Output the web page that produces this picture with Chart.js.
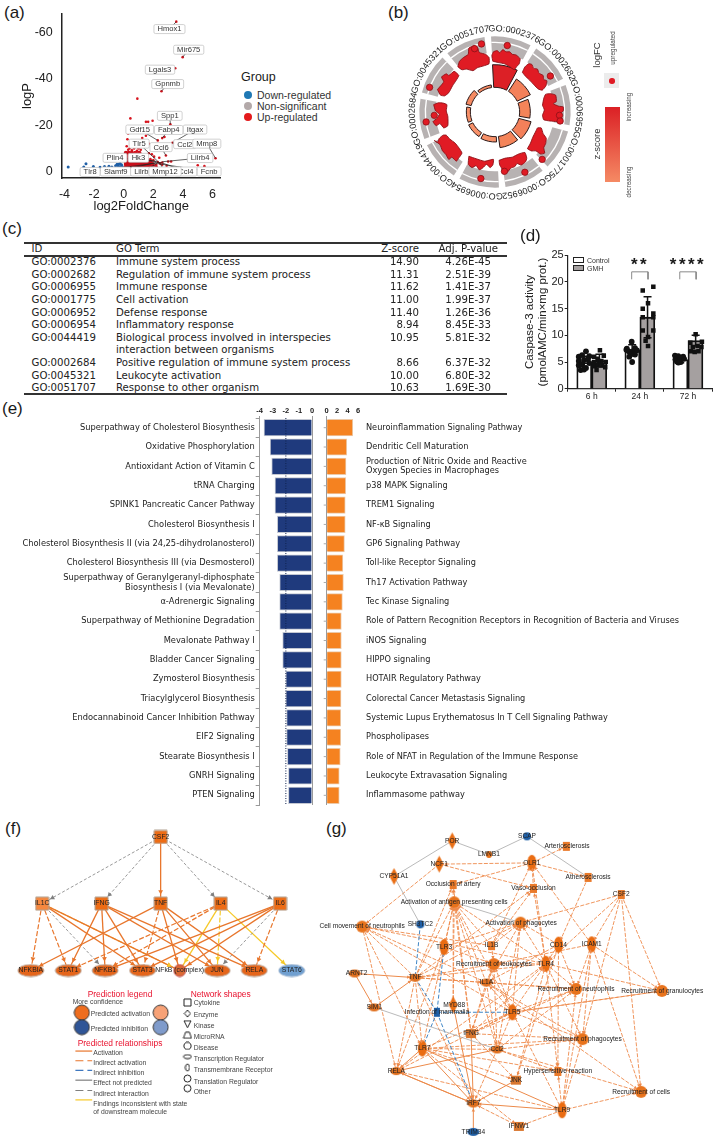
<!DOCTYPE html>
<html>
<head>
<meta charset="utf-8">
<title>GMH figure</title>
<script src="https://cdn.jsdelivr.net/npm/chart.js@4"></script>
<style>
  html, body { margin: 0; padding: 0; background: #fff; overflow: hidden; }
  #page { position: relative; width: 716px; height: 1145px; overflow: hidden; font-family: "Liberation Sans", Arial, sans-serif; color: #1a1a1a; }
  canvas { position: absolute; }
  .t { position: absolute; white-space: nowrap; line-height: 1; }
  #go-table .t { font-family: "DejaVu Sans Condensed", "DejaVu Sans", sans-serif; color: #222; }
</style>
</head>
<body>
<div id="page"></div>
<script>
// ---------- (a) volcano ----------
const upX = [3.55,3.98,3.48,2.55,0.92,0.45,3.15,1.95,1.5,1.65,0.3,1.5,0.25,1.25,2.3,2.6,2.75,3.3,1.7,1.3,2.85,2.05,6.2,5,5.45,3,2.6,2,1.8,2.3,2.45,1.9,2.2,1.4,1.7,1,0.7,0.4,0.3,0.2,0.9,0.55,1.15,0.75,2.6,2.9,3.2,1.9,2.4];
const upY = [-64.7,-49.4,-44.6,-34.7,-31.5,-23,-20.5,-22,-21.5,-21.5,-16.5,-15.5,-14,-14.5,-13.5,-14.5,-15,-12.5,-12,-11,-7,-6.5,-5.8,-2.8,-2.4,-4.4,-4,-5,-5.5,-4.2,-3.6,-3.3,-3,-7,-8,-10,-10,-10,-9.5,-11,-9,-9.2,-9.5,-8.4,-3,-2.6,-4.4,-7.5,-6];
const denseX = [0.15,0.35,0.55,0.75,0.95,1.15,1.35,1.55,1.75,1.95,2.15, 0.15,0.35,0.55,0.75,0.95,1.15,1.35,1.55,1.75,1.95,2.15, 0.15,0.35,0.55,0.75,0.95,1.15,1.35,1.55,1.75,1.95, 0.15,0.35,0.55,0.75,0.95,1.15,1.35,1.55,1.8, 0.15,0.35,0.55,0.75,0.95,1.15,1.4, 0.15,0.35,0.55,0.75,0.95,1.2, 0.15,0.35,0.55,0.8,1.05];
const denseY = [-0.9,-0.9,-0.9,-0.9,-0.9,-0.9,-0.9,-0.9,-0.9,-0.9,-0.9, -2.1,-2.1,-2.1,-2.1,-2.1,-2.1,-2.1,-2.1,-2.1,-2.1,-2.1, -3.3,-3.3,-3.3,-3.3,-3.3,-3.3,-3.3,-3.3,-3.3,-3.3, -4.5,-4.5,-4.5,-4.5,-4.5,-4.5,-4.5,-4.5,-4.5, -5.7,-5.7,-5.7,-5.7,-5.7,-5.7,-5.7, -6.9,-6.9,-6.9,-6.9,-6.9,-6.9, -8.1,-8.1,-8.1,-8.1,-8.1];
const downX = [-3.75,-2.55,-2.05,-2.7,-1.6,-1.3,-1,-0.8,-0.55,-0.4,-0.35,-0.3,-0.15,-0.2,-0.45,-0.1,-0.25];
const downY = [-2,-3.4,-2.3,-2,-1.9,-2.3,-2.4,-2,-2.6,-2.6,-3.2,-2.2,-3,-2.2,-3.2,-2.3,-3.6];
const geneNames = ['Hmox1','Mir675','Lgals3','Gpnmb','Spp1','Gdf15','Fabp4','Itgax','Tlr5','Ccl6','Ccl2','Mmp8','Plin4','Hk3','Lilrb4','Tlr8','Slamf9','Ccl4','Lilrb3','Mmp12','Fcnb'];
const geneX = [3.09,4.39,2.45,2.97,3.11,1.08,3.04,4.82,1.04,2.52,4.12,5.61,-0.59,0.99,5.16,-2.27,-0.54,4.19,1.33,2.79,5.77];
const geneY = [-61.5,-52.6,-44,-37.8,-24.1,-18.2,-18,-18.2,-12.1,-10.6,-11.9,-12.1,-6,-6,-5.9,0.1,-0.1,-0.1,-0.1,-0.1,-0.1];
const geneTargetX = [3.55,3.98,3.48,2.55,3.15,2.3,2.6,3.3,2.3,2.85,3.3,6.2,2.2,2.4,2.6,2.5,2.2,2.5,2.3,2.4,2.3];
const geneTargetY = [-64.7,-49.4,-44.6,-34.7,-20.5,-13.5,-14.5,-12.5,-4.5,-7,-12.5,-5.8,-4.5,-4,-4.3,-4,-4,-4,-3.8,-4,-3.5];
const groupNames = ['Down-regulated','Non-significant','Up-regulated'];
const groupColors = ['#1f78b4','#b3a9a9','#e41a1c'];

// ---------- (b) GO circle ----------
const goCircleIds = ['GO:0002376','GO:0002682','GO:0006955','GO:0001775','GO:0006952','GO:0006954','GO:0044419','GO:0002684','GO:0045321','GO:0051707'];
const zBarTop = [142,118,106,112,108,90,88,86,90,82];
const zBarColors = ['#dc2026','#f3805a','#f48459','#f3805a','#f48459','#f79068','#f79068','#f79068','#f58a62','#f58a62'];
const outlierX = [294,431,460,462,405,350,285,210,36,62,47,212,190];
const outlierY = [50,147,272,290,412,453,450,473,293,272,183,45,60];
const blobX = [
  [248,245,250,262,270,280,290,302,310,322,335,332,324,316,300,285,265],
  [342,350,362,372,378,390,395,408,410,420,417,405,392,380,365,352],
  [406,410,416,432,448,450,440,458,472,472,462,468,470,452,430,410,406,412],
  [358,368,375,385,390,402,408,418,416,410,413,400,385,370],
  [268,288,310,330,350,356,352,338,325,318,305,295,282,276,270],
  [172,195,222,250,248,240,228,215,205,195,182,170],
  [62,72,78,90,100,112,128,140,150,138,132,118,108,98,88,80],
  [60,75,90,102,100,105,105,92,80,68,58,70,78,66],
  [72,85,92,85,100,108,125,140,132,120,108,95,82],
  [137,142,155,170,172,190,200,205,225,236,236,218,200,185,165,150]
];
const blobY = [
  [100,82,70,66,73,63,70,70,78,80,92,108,117,127,116,108,104],
  [135,118,108,110,122,125,138,145,158,162,178,192,188,176,160,148],
  [240,218,205,203,208,228,235,243,245,258,268,282,295,292,290,286,272,255],
  [378,360,342,322,312,312,330,345,362,375,392,395,385,385],
  [415,408,405,395,390,408,420,430,425,435,440,452,458,440,430],
  [402,410,418,412,430,438,428,440,445,432,438,428],
  [352,358,345,335,335,348,360,375,392,410,418,405,412,395,385,365],
  [238,232,233,238,258,275,305,312,298,305,292,282,268,258],
  [190,175,165,150,140,145,132,145,160,178,200,210,208],
  [118,100,88,78,58,50,58,72,78,88,108,115,120,130,125,127]
];

// ---------- (c) table ----------
const goIds = ['GO:0002376','GO:0002682','GO:0006955','GO:0001775','GO:0006952','GO:0006954','GO:0044419','','GO:0002684','GO:0045321','GO:0051707'];
const goTerms = ['Immune system process','Regulation of immune system process','Immune response','Cell activation','Defense response','Inflammatory response','Biological process involved in interspecies','interaction between organisms','Positive regulation of immune system process','Leukocyte activation','Response to other organism'];
const zScores = ['14.90','11.31','11.62','11.00','11.40','8.94','10.95','','8.66','10.00','10.63'];
const adjP = ['4.26E-45','2.51E-39','1.41E-37','1.99E-37','1.26E-36','8.45E-33','5.81E-32','','6.37E-32','6.80E-32','1.69E-30'];

// ---------- (d) caspase ----------
const timeLabels = ['6 h','24 h','72 h'];
const controlMeans = [4.9,7.25,5.45];
const gmhMeans = [5.25,13.4,9];
const controlErr = [1.2,1,0.6];
const gmhErr = [1.2,3.85,1];
const controlPtX = [-0.27,-0.2,-0.12,-0.05,-0.27,-0.16,-0.08,-0.27,-0.2,-0.05,-0.12,-0.23,-0.16, 0.73,0.83,0.9,0.77,0.87,0.8,0.94,0.72,0.83,0.78,0.9,0.84, 1.73,1.8,1.9,1.74,1.84,1.77,1.92,1.85,1.8];
const controlPtY = [6,6.3,7,6.1,5.2,5.4,5.5,4.4,4.6,4.8,3.9,3.5,3.6, 7.5,8.8,7.6,7,7.1,6.8,7.2,7.3,6.5,6,6.4,5,  6.2,6.1,6,5.5,5.6,5.1,5.6,5,4.9];
const gmhPtX = [0.05,0.12,0.17,0.25,0.05,0.14,0.2,0.29,0.06,0.13,0.22,0.1,0.28, 1.06,1.28,1.17,1.06,1.28,1.06,1.28,1.06,1.28,1.17,1.17,1.12, 2.05,2.16,2.29,2.1,2.2,2.06,2.28,2.14,2.22];
const gmhPtY = [6,5.6,7.2,6.2,5,5.1,5.2,5,4.2,4.4,4.4,3.5,4, 18.4,19.1,16,15,14.1,13.4,13.4,10.9,10.9,9.7,8,9, 8.6,10.2,8.8,7.8,8,7,7.8,6.9,7];
const bracketLeft = [0.83,1.83];
const bracketRight = [1.17,2.17];
const bracketTop = 21.9;
const bracketFoot = 20.5;

// ---------- (e) pathways ----------
const downPathways = ['Superpathway of Cholesterol Biosynthesis','Oxidative Phosphorylation','Antioxidant Action of Vitamin C','tRNA Charging','SPINK1 Pancreatic Cancer Pathway','Cholesterol Biosynthesis I','Cholesterol Biosynthesis II (via 24,25-dihydrolanosterol)','Cholesterol Biosynthesis III (via Desmosterol)',['Superpathway of Geranylgeranyl-diphosphate','Biosynthesis I (via Mevalonate)'],'\u03b1-Adrenergic Signaling','Superpathway of Methionine Degradation','Mevalonate Pathway I','Bladder Cancer Signaling','Zymosterol Biosynthesis','Triacylglycerol Biosynthesis','Endocannabinoid Cancer Inhibition Pathway','EIF2 Signaling','Stearate Biosynthesis I','GNRH Signaling','PTEN Signaling'];
const downValues = [-3.67,-3.2,-3.08,-2.83,-2.83,-2.65,-2.65,-2.65,-2.47,-2.47,-2.47,-2.24,-2.24,-2,-2,-1.94,-1.94,-1.88,-1.8,-1.8];
const upPathways = ['Neuroinflammation Signaling Pathway','Dendritic Cell Maturation',['Production of Nitric Oxide and Reactive','Oxygen Species in Macrophages'],'p38 MAPK Signaling','TREM1 Signaling','NF-\u03baB Signaling','GP6 Signaling Pathway','Toll-like Receptor Signaling','Th17 Activation Pathway','Tec Kinase Signaling','Role of Pattern Recognition Receptors in Recognition of Bacteria and Viruses','iNOS Signaling','HIPPO signaling','HOTAIR Regulatory Pathway','Colorectal Cancer Metastasis Signaling','Systemic Lupus Erythematosus In T Cell Signaling Pathway','Phospholipases','Role of NFAT in Regulation of the Immune Response','Leukocyte Extravasation Signaling','Inflammasome pathway'];
const upValues = [5,3.85,3.7,3.65,3.55,3.55,3.4,3.1,3.2,3,2.8,2.8,2.8,2.8,2.75,2.7,2.7,2.6,2.4,2.4];
const thresholdLogP = -2;

// ---------- (f) network ----------
const fNames = ['CSF2','IL1C','IFNG','TNF','IL4','IL6','NFKBIA','STAT1','NFKB1','STAT3','NFkB (complex)','JUN','RELA','STAT6'];
const fX = [482,115,299,482,668,852,80,196,310,426,541,657,772,888];
const fY = [68,274,274,274,274,274,481,481,481,481,481,481,481,481];
const fShapes = ['rect','rectL','rect','rect','rect','rect','ell','ell','ell','ell','circ','ell','ell','ellB'];
const fSolid = [['CSF2','TNF'],['IL1C','STAT3'],['IL1C','NFkB (complex)'],['IFNG','STAT1'],['IFNG','NFKB1'],['IFNG','STAT3'],['IFNG','JUN'],['IFNG','RELA'],['TNF','NFKBIA'],['TNF','NFkB (complex)'],['TNF','JUN'],['TNF','RELA'],['IL6','NFKB1'],['IL6','STAT3'],['IL6','NFkB (complex)']];
const fDash = [['IL1C','NFKBIA'],['IL1C','STAT1'],['TNF','STAT3'],['IL4','STAT1'],['IL4','NFKB1'],['IL6','RELA']];
const fGrey = [['CSF2','IL1C'],['CSF2','IFNG'],['CSF2','IL4'],['CSF2','IL6'],['IL1C','NFKB1'],['IL6','JUN']];
const fYellowSolid = [['IL4','NFkB (complex)'],['IL4','STAT6']];
const fYellowDash = [['IL1C','NFkB (complex)'],['IL4','JUN']];
const predictLegendX = [238,482,238,482];
const predictLegendY = [611,611,656,656];
const predictLegendKinds = ['bigO','bigOL','bigB','bigBL'];
const shapeLegendY = [580,614,647,681,714,747,781,815,845];
const shapeLegendKinds = ['oRect','oDia','oTri','oTrap','oCross','oFlat','oTall','oCirc','oCirc'];
const shapeLegendNames = ['Cytokine','Enzyme','Kinase','MicroRNA','Disease','Transcription Regulator','Transmembrane  Receptor','Translation Regulator','Other'];
const relNames = ['Activation','Indirect activation','Indirect inhibition','Effect not predicted','Indirect interaction','Findings inconsistent with state','of downstream  molecule'];
const relY = [730,760,790,820,852,881,906];
const relColors = ['#e8762c','#e8762c','#3f78bf','#7f7f7f','#7f7f7f','#f6c928'];
const relDash = [[],[8,4],[8,4],[],[8,4],[]];

// ---------- (g) network ----------
const gNames = ['POR','SCAP','LMNB1','Arteriosclerosis','OLR1','NCF1','CYP51A1','Atherosclerosis','Occlusion of artery','Vaso-occlusion','CSF2','Activation of antigen presenting cells','Activation of phagocytes','Cell movement of neutrophils','SH3TC2','TLR3','IL1B','CD14','ICAM1','Recruitment of leukocytes','TLR4','ARNT2','TNF','IL1A','Recruitment of neutrophils','Recruitment of granulocytes','SIM1','MYD88','Infection of mammalia','TLR5','IFNG','Recruitment of phagocytes','TLR7','Ccl2','RELA','Hypersensitive reaction','JNK','Recruitment of cells','IRF7','TLR9','IFNW1','TRIM34'];
const gX = [422,652,535,773,667,382,243,840,425,672,942,428,632,145,324,397,543,749,851,550,710,122,308,527,803,1067,182,425,375,607,480,823,330,560,250,747,618,1003,487,760,627,487];
const gY = [80,66,122,97,148,152,190,193,215,227,246,270,333,345,338,408,404,401,400,461,460,490,503,518,538,544,595,587,610,610,676,693,722,725,792,793,820,856,892,913,963,980];
const gLabelX = [422,652,535,775,667,382,243,840,425,672,942,428,634,145,324,397,543,749,851,550,710,128,308,527,803,1068,182,428,375,607,480,823,330,560,250,747,618,1003,487,760,627,487];
const gShapes = ['dia','circB','dot','sq','tall','dia','dia','sq','sq','sq','sq','circ2','circ2','circ2','circB','tall','sq','tall','tall','circ2','tall','ellS','ellS','ellS','circ2','circ2','ellS','dia','rectB','tall','rectT','circ2','tall','ellS','ellS','sq','rectT','circ2','ellS','tall','rectT','ellSB'];
const gGrey = [['CYP51A1','POR'],['POR','LMNB1'],['LMNB1','SCAP'],['SCAP','Atherosclerosis'],['CYP51A1','SH3TC2'],['Activation of antigen presenting cells','Activation of phagocytes'],['SIM1','Ccl2']];
const gBlue = [['SH3TC2','TNF'],['TLR3','Infection of mammalia'],['TNF','Infection of mammalia'],['Infection of mammalia','TLR7'],['Infection of mammalia','IRF7'],['Infection of mammalia','TLR5']];
const gSolid = [['TRIM34','IRF7'],['TLR7','IRF7'],['RELA','IRF7'],['Ccl2','RELA'],['IRF7','RELA'],['TLR9','IRF7'],['TLR7','RELA'],['JNK','IRF7'],['ARNT2','TNF'],['ARNT2','SIM1'],['SIM1','TNF'],['TLR7','TLR9'],['IFNG','IRF7'],['MYD88','IRF7']];
const gDash = [
  ['NCF1','Cell movement of neutrophils'],['OLR1','NCF1'],['NCF1','Vaso-occlusion'],['OLR1','Arteriosclerosis'],['OLR1','Occlusion of artery'],['OLR1','Atherosclerosis'],['Atherosclerosis','CD14'],['Vaso-occlusion','OLR1'],['TLR4','OLR1'],['ICAM1','OLR1'],['IL1B','OLR1'],['TNF','Vaso-occlusion'],['IL1B','Vaso-occlusion'],['TLR4','Vaso-occlusion'],
  ['CSF2','Activation of phagocytes'],['CSF2','TLR4'],['CSF2','ICAM1'],['CSF2','Recruitment of granulocytes'],['CSF2','Recruitment of cells'],['CSF2','Recruitment of phagocytes'],
  ['ICAM1','Recruitment of granulocytes'],['ICAM1','Recruitment of cells'],['ICAM1','Recruitment of phagocytes'],['ICAM1','Recruitment of neutrophils'],['ICAM1','Recruitment of leukocytes'],
  ['TLR4','Recruitment of granulocytes'],['TLR4','Recruitment of neutrophils'],['TLR4','Recruitment of leukocytes'],['TLR4','Recruitment of phagocytes'],['TLR4','Hypersensitive reaction'],['TLR4','Activation of phagocytes'],['TLR4','Activation of antigen presenting cells'],['TLR4','TNF'],
  ['CD14','TLR4'],['CD14','Recruitment of neutrophils'],['CD14','Hypersensitive reaction'],['CD14','JNK'],['CD14','Activation of phagocytes'],['CD14','IL1A'],
  ['IL1B','Recruitment of leukocytes'],['IL1B','Cell movement of neutrophils'],['IL1B','Activation of antigen presenting cells'],['IL1B','Activation of phagocytes'],
  ['TNF','Activation of phagocytes'],['TNF','Activation of antigen presenting cells'],['TNF','Recruitment of leukocytes'],['TNF','Recruitment of neutrophils'],['TNF','IL1A'],['TNF','TLR7'],['TNF','RELA'],['TNF','Cell movement of neutrophils'],['TNF','Occlusion of artery'],['TNF','IRF7'],
  ['Cell movement of neutrophils','RELA'],['Cell movement of neutrophils','TLR7'],['IL1A','Cell movement of neutrophils'],['TLR5','Cell movement of neutrophils'],['TLR4','Cell movement of neutrophils'],
  ['IL1A','Recruitment of leukocytes'],['IL1A','Recruitment of neutrophils'],['IL1A','Recruitment of phagocytes'],['IL1A','Activation of phagocytes'],['IL1A','Activation of antigen presenting cells'],['IL1A','Ccl2'],['IL1A','IFNG'],['IL1A','Recruitment of cells'],
  ['TLR5','Recruitment of leukocytes'],['TLR5','Recruitment of neutrophils'],['TLR5','Recruitment of granulocytes'],['TLR5','Recruitment of phagocytes'],['TLR5','Ccl2'],['TLR5','Activation of antigen presenting cells'],['TLR5','Activation of phagocytes'],['TLR5','IL1A'],['TLR5','TLR4'],['TLR5','RELA'],['TLR5','IFNG'],
  ['TLR3','Activation of antigen presenting cells'],['TLR3','Activation of phagocytes'],['TLR3','Recruitment of leukocytes'],['TLR3','RELA'],['MYD88','Occlusion of artery'],['MYD88','Activation of antigen presenting cells'],
  ['IFNG','Recruitment of neutrophils'],['IFNG','Recruitment of phagocytes'],['IFNG','Recruitment of leukocytes'],['IFNG','Activation of antigen presenting cells'],['IFNG','TLR4'],['IFNG','Occlusion of artery'],
  ['Ccl2','Recruitment of leukocytes'],['Ccl2','Recruitment of neutrophils'],['Ccl2','Recruitment of phagocytes'],['Ccl2','Recruitment of cells'],['Ccl2','Hypersensitive reaction'],['Ccl2','Activation of antigen presenting cells'],['Ccl2','IRF7'],['Ccl2','Activation of phagocytes'],
  ['TLR7','Ccl2'],['TLR7','TLR5'],['TLR7','JNK'],['TLR7','IFNW1'],['TLR7','Hypersensitive reaction'],['TLR7','Activation of antigen presenting cells'],['TLR7','Recruitment of phagocytes'],
  ['TLR9','Recruitment of cells'],['TLR9','RELA'],['TLR9','Hypersensitive reaction'],['TLR9','Recruitment of neutrophils'],['TLR9','Recruitment of phagocytes'],['TLR9','IFNW1'],['TLR9','ICAM1'],['TLR9','TLR5'],['IFNW1','IRF7'],['IFNG','JNK'],['JNK','TLR4'],['RELA','TLR4'],['Recruitment of granulocytes','TLR5']
];

// ---------- helpers ----------
Chart.defaults.font.family = '"Liberation Sans", Arial, sans-serif';
Chart.defaults.color = '#1a1a1a';
Chart.defaults.animation = false;
Chart.defaults.responsive = false;
Chart.defaults.plugins.legend.display = false;
Chart.defaults.plugins.tooltip.enabled = false;

const page = document.getElementById('page');

function addCanvas(x, y, w, h) {
  const c = document.createElement('canvas');
  c.width = w; c.height = h;
  c.style.left = x + 'px'; c.style.top = y + 'px';
  page.appendChild(c);
  return c;
}

function addText(x, y, str, o = {}) {
  const d = document.createElement('div');
  d.className = 't';
  d.textContent = str;
  d.style.left = x + 'px'; d.style.top = y + 'px';
  d.style.fontSize = (o.size || 8) + 'px';
  if (o.color) d.style.color = o.color;
  if (o.weight) d.style.fontWeight = o.weight;
  if (o.spacing) d.style.letterSpacing = o.spacing + 'px';
  const shift = o.align === 'center' ? '-50%' : o.align === 'right' ? '-100%' : '0';
  d.style.transform = `translate(${shift},-50%)` + (o.rotate ? ` rotate(${o.rotate}deg)` : '');
  (o.parent || page).appendChild(d);
  return d;
}

function addBox(x, y, w, h, css) {
  const d = document.createElement('div');
  d.style.cssText = `position:absolute;left:${x}px;top:${y}px;width:${w}px;height:${h}px;box-sizing:border-box;${css}`;
  page.appendChild(d);
}

// axis boxes are pinned to the reference plot area, label overflow padding is dropped
const pinWidth = w => s => { s.width = w; s.paddingTop = 0; s.paddingBottom = 0; };
const pinHeight = h => s => { s.height = h; s.paddingLeft = 0; s.paddingRight = 0; };

// small canvases used as point styles in the two networks
const shapeSpecs = {
  rect: [13,13,'#ee6c14','#b0a090'], rectL: [13,13,'#f6883f','#b0a090'], ell: [26,12,'#e5651a','#b9a79a'], ellB: [26,12,'#6f9fd0','#9cb4d0'], circ: [12,12,'#dc6a35','#c05050'],
  dia: [9,17,'#e96f16',null], circB: [8,8,'#1f5fa6',null], sq: [7,9,'#ea7a2a',null], tall: [9,16,'#ea6c12',null], rectB: [6,9,'#1f5fa6',null], rectT: [10,9,'#d9772f',null],
  dot: [6,7,'#e8731c',null], ellS: [12,8,'#e0701f',null], ellSB: [12,8,'#1f5fa6',null], circ2: [12,12,'#e8731c',null],
  bigO: [15,15,'#ee6d1e','#333'], bigOL: [15,15,'#f7a277','#333'], bigB: [15,15,'#2f5597','#333'], bigBL: [15,15,'#7f9bcb','#333'],
  oRect: [7,7,'#fff','#222'], oDia: [6,7,'#fff','#222'], oTri: [7,7,'#fff','#222'], oTrap: [8,6,'#fff','#222'], oCross: [7,7,'#fff','#222'], oFlat: [8,4,'#fff','#222'], oTall: [4,7,'#fff','#222'], oCirc: [7,7,'#fff','#222']
};
function shapeCanvas(kind) {
  const [w, h, fill, line] = shapeSpecs[kind];
  const c = document.createElement('canvas');
  c.width = w + 2; c.height = h + 2;
  const g = c.getContext('2d');
  const cx = c.width / 2, cy = c.height / 2;
  g.fillStyle = fill;
  g.beginPath();
  if (kind === 'dia' || kind === 'oDia') {
    g.moveTo(cx, 1); g.lineTo(w + 1, cy); g.lineTo(cx, h + 1); g.lineTo(1, cy); g.closePath();
  } else if (kind === 'oTri') {
    g.moveTo(1, 1); g.lineTo(w + 1, 1); g.lineTo(cx, h + 1); g.closePath();
  } else if (kind === 'oTrap') {
    g.moveTo(3, 1); g.lineTo(w - 1, 1); g.lineTo(w + 1, h + 1); g.lineTo(1, h + 1); g.closePath();
  } else if (kind === 'oCross') {
    g.moveTo(3, 1); g.lineTo(w - 1, 1); g.lineTo(w + 1, 3); g.lineTo(w + 1, h - 1); g.lineTo(w - 1, h + 1); g.lineTo(3, h + 1); g.lineTo(1, h - 1); g.lineTo(1, 3); g.closePath();
  } else if (kind.includes('rect') || kind === 'sq' || kind === 'oRect') {
    g.rect(1, 1, w, h);
  } else {
    g.ellipse(cx, cy, w / 2, h / 2, 0, 0, Math.PI * 2);
  }
  g.fill();
  if (line) { g.strokeStyle = line; g.lineWidth = 1; g.stroke(); }
  return c;
}

// arrowheads + node labels drawn on top of a network chart
const networkPlugin = {
  id: 'network',
  afterDatasetsDraw(chart, args, opts) {
    const { ctx, scales: { x, y } } = chart;
    ctx.save();
    opts.arrows.forEach(([x0, y0, x1, y1, color]) => {
      const px = x.getPixelForValue(x1), py = y.getPixelForValue(y1);
      const a = Math.atan2(py - y.getPixelForValue(y0), px - x.getPixelForValue(x0));
      const back = opts.arrowBack, tx = px - Math.cos(a) * back, ty = py - Math.sin(a) * back;
      const s = opts.arrowSize;
      ctx.fillStyle = color;
      ctx.beginPath();
      ctx.moveTo(tx, ty);
      ctx.lineTo(tx - Math.cos(a - 0.5) * s, ty - Math.sin(a - 0.5) * s);
      ctx.lineTo(tx - Math.cos(a + 0.5) * s, ty - Math.sin(a + 0.5) * s);
      ctx.fill();
    });
    ctx.restore();
  },
  afterDraw(chart, args, opts) {
    const { ctx, scales: { x, y } } = chart;
    ctx.save();
    ctx.fillStyle = '#222';
    ctx.font = opts.labelFont;
    ctx.textAlign = 'center';
    ctx.textBaseline = 'middle';
    opts.names.forEach((n, i) => ctx.fillText(n, x.getPixelForValue(opts.labelX[i]), y.getPixelForValue(opts.labelY[i])));
    ctx.restore();
  }
};

function edgeSets(pairs, names, xs, ys, color, dash, width, arrows, arrowed) {
  return pairs.map(([a, b]) => {
    const i = names.indexOf(a), j = names.indexOf(b);
    if (arrowed) arrows.push([xs[i], ys[i], xs[j], ys[j], color]);
    return { type: 'line', data: [{ x: xs[i], y: ys[i] }, { x: xs[j], y: ys[j] }], borderColor: color, borderDash: dash, borderWidth: width, pointRadius: 0, order: 5 };
  });
}

// ---------- (a) ----------
addText(4, 12, '(a)', { size: 17 });
const geneLabelsPlugin = {
  id: 'geneLabels',
  afterDatasetsDraw(chart) {
    const { ctx, scales: { x, y } } = chart;
    ctx.save();
    ctx.strokeStyle = '#222'; ctx.lineWidth = 0.7;
    geneNames.forEach((n, i) => {
      ctx.beginPath();
      ctx.moveTo(x.getPixelForValue(geneX[i]), y.getPixelForValue(geneY[i]));
      ctx.lineTo(x.getPixelForValue(geneTargetX[i]), y.getPixelForValue(geneTargetY[i]));
      ctx.stroke();
    });
    ctx.font = '7.6px "Liberation Sans"';
    ctx.textAlign = 'center'; ctx.textBaseline = 'middle';
    geneNames.forEach((n, i) => {
      const px = x.getPixelForValue(geneX[i]), py = y.getPixelForValue(geneY[i]);
      const w = ctx.measureText(n).width + 7;
      ctx.fillStyle = '#fff'; ctx.strokeStyle = '#bdbdbd';
      ctx.beginPath(); ctx.roundRect(px - w / 2, py - 4.5, w, 9, 1.5); ctx.fill(); ctx.stroke();
      ctx.fillStyle = '#333';
      ctx.fillText(n, px, py + 0.3);
    });
    ctx.restore();
  }
};
new Chart(addCanvas(0, 0, 230, 214), {
  type: 'scatter',
  data: { datasets: [
    { data: upX.map((v, i) => ({ x: v, y: upY[i] })), backgroundColor: '#d7141e', pointRadius: 1.3, pointBorderWidth: 0 },
    { data: denseX.map((v, i) => ({ x: v, y: denseY[i] })), backgroundColor: '#c8101c', pointRadius: 2.2, pointBorderWidth: 0 },
    { data: downX.map((v, i) => ({ x: v, y: downY[i] })), backgroundColor: '#1f5fa6', pointRadius: 1.5, pointBorderWidth: 0 }
  ] },
  options: {
    layout: { padding: { top: 14, right: 9.3 } },
    scales: {
      x: { min: -4.19, max: 6.55, grid: { display: false }, border: { color: '#222', width: 1.5 },
        ticks: { stepSize: 2, includeBounds: false, font: { size: 12.5 }, padding: 1, color: '#222' },
        title: { display: true, text: 'log2FoldChange', font: { size: 13 }, padding: { top: 1, bottom: 0 } },
        afterFit: pinHeight(36) },
      y: { min: -68, max: 2.7, reverse: true, grid: { display: false }, border: { color: '#222', width: 1.5 },
        ticks: { stepSize: 20, includeBounds: false, font: { size: 12.5 }, padding: 1, color: '#222' },
        title: { display: true, text: 'logP', font: { size: 13 }, padding: { top: 20, bottom: 0 } },
        afterFit: pinWidth(61.7) }
    }
  },
  plugins: [geneLabelsPlugin]
});
addText(241, 77, 'Group', { size: 12.5 });
groupNames.forEach((n, i) => {
  addBox(243.5, 91 + i * 11, 8, 8, `border-radius:50%;background:${groupColors[i]}`);
  addText(257, 95.3 + i * 11, n, { size: 10.5, color: '#333' });
});

// ---------- (b) ----------
addText(388, 12, '(b)', { size: 17 });
const sectorAngles = c => (c.dataIndex % 2 ? 5 : 31);
const withGaps = arr => arr.flatMap(v => [v, 0]);
const ringInnerPlugin = {
  id: 'ringInner',
  beforeDatasetsDraw(chart) {
    const r = chart.scales.r;
    chart.data.datasets.forEach((ds, k) => {
      chart.getDatasetMeta(k).data.forEach((arc, i) => {
        arc.innerRadius = i % 2 ? 0 : r.getDistanceFromCenterForValue(ds.baseRadius);
      });
    });
  }
};
new Chart(addCanvas(414.7, 32.3, 160, 160), {
  type: 'polarArea',
  data: {
    labels: withGaps(goCircleIds),
    datasets: [
      { data: withGaps(zBarTop), baseRadius: 74, angle: sectorAngles, borderWidth: c => (c.dataIndex % 2 ? 0 : 1), borderColor: '#2b1a1a', backgroundColor: c => (c.dataIndex % 2 ? 'transparent' : zBarColors[c.dataIndex / 2]) },
      { data: withGaps(goCircleIds.map(() => 211)), baseRadius: 207, angle: sectorAngles, borderWidth: 0, backgroundColor: '#ffffff' },
      { data: withGaps(goCircleIds.map(() => 227)), baseRadius: 178, angle: sectorAngles, borderWidth: 0, backgroundColor: '#b7b2b2' }
    ]
  },
  options: {
    layout: { padding: 0 },
    scales: { r: { min: 0, max: 240, startAngle: -3, display: false, ticks: { display: false }, pointLabels: { display: false } } }
  },
  plugins: [ringInnerPlugin]
});
const blobSets = blobX.map((xs, k) => {
  const pts = xs.map((v, i) => ({ x: v, y: blobY[k][i] }));
  pts.push(pts[0]);
  return { type: 'line', data: pts, borderColor: '#8c1016', borderWidth: 0.9, backgroundColor: '#e01b24', fill: 'shape', pointRadius: 0, tension: 0.15, order: 2 };
});
new Chart(addCanvas(410, 25, 170, 170), {
  type: 'scatter',
  data: { datasets: [
    { data: outlierX.map((v, i) => ({ x: v, y: outlierY[i] })), pointRadius: 3.2, backgroundColor: '#e01b24', borderColor: '#8c1016', borderWidth: 0.8, order: 1 },
    ...blobSets
  ] },
  options: { scales: { x: { display: false, min: 0, max: 510 }, y: { display: false, min: 0, max: 510, reverse: true } } }
});
// curved GO ids around the circle
const svgNS = 'http://www.w3.org/2000/svg';
const svg = document.createElementNS(svgNS, 'svg');
svg.setAttribute('width', 716); svg.setAttribute('height', 210);
svg.style.cssText = 'position:absolute;left:0;top:0;';
const ring = document.createElementNS(svgNS, 'path');
ring.setAttribute('id', 'go-ring');
ring.setAttribute('d', 'M 495.7 31.3 A 81 81 0 1 1 495.69 31.3');
ring.setAttribute('fill', 'none');
svg.appendChild(ring);
goCircleIds.forEach((id, i) => {
  const t = document.createElementNS(svgNS, 'text');
  t.setAttribute('transform', `rotate(${-5 + i * 36} 495.7 112.3)`);
  t.setAttribute('font-size', '9');
  t.setAttribute('font-family', '"Liberation Sans"');
  t.setAttribute('fill', '#222');
  const p = document.createElementNS(svgNS, 'textPath');
  p.setAttribute('href', '#go-ring');
  p.textContent = id;
  t.appendChild(p);
  svg.appendChild(t);
});
page.appendChild(svg);
addText(597, 55, 'logFC', { size: 9.5, rotate: -90, align: 'center', color: '#333' });
addText(613, 48, 'upregulated', { size: 6.3, rotate: -90, align: 'center', color: '#444' });
addBox(604, 73, 15, 15, 'background:#ececec');
addBox(609, 78, 5.5, 5.5, 'background:#e01b24;border-radius:50%');
addText(597, 144, 'z-score', { size: 9.5, rotate: -90, align: 'center', color: '#333' });
addBox(605, 107, 15, 75, 'background:linear-gradient(#db2025,#f58a64)');
addText(629, 107, 'increasing', { size: 6.3, rotate: -90, align: 'center', color: '#444' });
addText(629, 182, 'decreasing', { size: 6.3, rotate: -90, align: 'center', color: '#444' });

// ---------- (c) ----------
addText(2, 228, '(c)', { size: 17 });
const tableLayer = document.createElement('div');
tableLayer.id = 'go-table';
page.appendChild(tableLayer);
const rowY = i => 262 + i * 12.63;
const tableFont = 11.3;
addBox(24, 242, 483, 2, 'background:#333');
addBox(24, 255, 483, 1.5, 'background:#333');
addBox(24, 393.3, 483, 2, 'background:#333');
addText(31.5, 249, 'ID', { parent: tableLayer, size: tableFont });
addText(116, 249, 'GO Term', { parent: tableLayer, size: tableFont });
addText(419, 249, 'Z-score', { parent: tableLayer, align: 'right', size: tableFont });
addText(498, 249, 'Adj. P-value', { parent: tableLayer, align: 'right', size: tableFont });
goTerms.forEach((term, i) => {
  addText(31.5, rowY(i), goIds[i], { parent: tableLayer, size: tableFont });
  addText(116, rowY(i), term, { parent: tableLayer, size: tableFont });
  addText(419, rowY(i), zScores[i], { parent: tableLayer, align: 'right', size: tableFont });
  addText(491, rowY(i), adjP[i], { parent: tableLayer, align: 'right', size: tableFont });
});

// ---------- (d) ----------
addText(520, 235, '(d)', { size: 17 });
const errorBarsPlugin = {
  id: 'errorBars',
  afterDatasetsDraw(chart) {
    const { ctx, scales: { x2, y } } = chart;
    ctx.save();
    ctx.strokeStyle = '#111'; ctx.lineWidth = 1.5;
    [[controlMeans, controlErr, -0.16], [gmhMeans, gmhErr, 0.16]].forEach(([means, errs, off]) => {
      means.forEach((m, i) => {
        const px = x2.getPixelForValue(i + off);
        const hi = y.getPixelForValue(m + errs[i]), lo = y.getPixelForValue(m - errs[i]);
        ctx.beginPath();
        ctx.moveTo(px, lo); ctx.lineTo(px, hi);
        ctx.moveTo(px - 4, hi); ctx.lineTo(px + 4, hi);
        ctx.moveTo(px - 4, lo); ctx.lineTo(px + 4, lo);
        ctx.stroke();
      });
    });
    ctx.restore();
  }
};
const bracketSets = bracketLeft.map((l, i) => ({
  type: 'line', xAxisID: 'x2', pointRadius: 0, borderColor: '#8a8a8a', borderWidth: 1, order: 0,
  data: [{ x: l, y: bracketFoot }, { x: l, y: bracketTop }, { x: bracketRight[i], y: bracketTop }, { x: bracketRight[i], y: bracketFoot }]
}));
new Chart(addCanvas(520, 240, 196, 172), {
  data: {
    labels: timeLabels,
    datasets: [
      { type: 'scatter', xAxisID: 'x2', data: controlPtX.map((v, i) => ({ x: v, y: controlPtY[i] })), pointStyle: 'circle', pointRadius: 2.9, backgroundColor: '#111', borderWidth: 0, order: 1 },
      { type: 'scatter', xAxisID: 'x2', data: gmhPtX.map((v, i) => ({ x: v, y: gmhPtY[i] })), pointStyle: 'rect', pointRadius: 3.2, backgroundColor: '#111', borderWidth: 0, order: 1 },
      { type: 'bar', label: 'Control', data: controlMeans, backgroundColor: '#fff', borderColor: '#111', borderWidth: 1.8, barThickness: 15, order: 3 },
      { type: 'bar', label: 'GMH', data: gmhMeans, backgroundColor: '#a5a0a0', borderColor: '#111', borderWidth: 1.8, barThickness: 15, order: 3 },
      ...bracketSets
    ]
  },
  options: {
    layout: { padding: { top: 15.3, right: 4 } },
    scales: {
      x: { grid: { drawOnChartArea: false, color: '#222', tickLength: 3 }, border: { color: '#222', width: 1.2 }, ticks: { font: { size: 8.5 }, padding: 0, color: '#222' }, afterFit: pinHeight(23.3) },
      x2: { type: 'linear', display: false, min: -0.5, max: 2.5 },
      y: { min: 0, max: 25, grid: { drawOnChartArea: false, color: '#222', tickLength: 3 }, border: { color: '#222', width: 1.2 },
        ticks: { stepSize: 5, font: { size: 11 }, padding: 1, color: '#222' },
        title: { display: true, text: ['Caspase-3 activity', '(pmolAMC/min\u00d7mg prot.)'], font: { size: 11.5 }, color: '#222', padding: { top: 2.5, bottom: 0 } },
        afterFit: pinWidth(47.7) }
    }
  },
  plugins: [errorBarsPlugin]
});
addBox(573, 256.5, 10.5, 6, 'background:#fff;border:1px solid #222');
addBox(573, 265, 10.5, 6, 'background:#a5a0a0;border:1px solid #222');
addText(587, 259.5, 'Control', { size: 7, color: '#333' });
addText(587, 268, 'GMH', { size: 7, color: '#333' });
addText(640, 264, '**', { size: 17, weight: 'bold', align: 'center', spacing: 2.5 });
addText(688, 264, '****', { size: 17, weight: 'bold', align: 'center', spacing: 2.5 });

// ---------- (e) ----------
addText(2, 408, '(e)', { size: 17 });
const dottedLinePlugin = {
  id: 'dottedLine',
  afterDatasetsDraw(chart) {
    const { ctx, chartArea, scales: { x } } = chart;
    const px = x.getPixelForValue(thresholdLogP);
    ctx.save();
    ctx.strokeStyle = '#10224f'; ctx.lineWidth = 1; ctx.setLineDash([1, 1.5]);
    ctx.beginPath(); ctx.moveTo(px, chartArea.top); ctx.lineTo(px, chartArea.bottom); ctx.stroke();
    ctx.restore();
  }
};
// short ticks left of the orange axis, the labels themselves sit on the right
const leftTicksPlugin = {
  id: 'leftTicks',
  afterDatasetsDraw(chart) {
    const { ctx, chartArea, scales: { y } } = chart;
    ctx.save();
    ctx.strokeStyle = '#aaa'; ctx.lineWidth = 1;
    y.ticks.forEach((t, i) => {
      const py = y.getPixelForTick(i);
      ctx.beginPath(); ctx.moveTo(chartArea.left - 3, py); ctx.lineTo(chartArea.left, py); ctx.stroke();
    });
    ctx.restore();
  }
};
const pathwayFont = { size: 8.3, family: '"DejaVu Sans"' };
new Chart(addCanvas(0, 404, 314, 402), {
  type: 'bar',
  data: { labels: downPathways, datasets: [{ data: downValues, backgroundColor: '#1f3a7d', borderColor: '#c3c7d2', borderWidth: 1, barThickness: 16.5 }] },
  options: {
    indexAxis: 'y',
    layout: { padding: { right: 2, bottom: 1 } },
    scales: {
      x: { position: 'top', min: -4, max: 0, border: { display: false },
        grid: { color: c => (c.tick.value === -4 || c.tick.value === 0 ? '#9a9a9a' : 'transparent'), lineWidth: 1, tickLength: 2 },
        ticks: { stepSize: 1, font: { size: 7.5, weight: 'bold' }, padding: 1, color: '#222', maxRotation: 0 },
        afterFit: pinHeight(14) },
      y: { grid: { drawOnChartArea: false, color: '#999', tickLength: 4 }, border: { display: false },
        ticks: { autoSkip: false, font: pathwayFont, padding: 1, color: '#222', lineHeight: 1.2 },
        afterFit: pinWidth(259.7) }
    }
  },
  plugins: [dottedLinePlugin]
});
new Chart(addCanvas(322, 404, 394, 402), {
  type: 'bar',
  data: { labels: upPathways, datasets: [{ data: upValues, backgroundColor: '#f58220', borderColor: '#ecc9a8', borderWidth: 1, barThickness: 16.5 }] },
  options: {
    indexAxis: 'y',
    layout: { padding: { left: 4.7, bottom: 1 } },
    scales: {
      x: { position: 'top', min: 0, max: 6, border: { display: false },
        grid: { color: c => (c.tick.value === 0 ? '#9a9a9a' : 'transparent'), lineWidth: 1, tickLength: 2 },
        ticks: { stepSize: 2, font: { size: 7.5, weight: 'bold' }, padding: 1, color: '#222', maxRotation: 0 },
        afterFit: pinHeight(14) },
      y: { position: 'right', grid: { display: false }, border: { display: false },
        ticks: { autoSkip: false, font: { size: 8.2, family: '"DejaVu Sans"' }, padding: 0, color: '#222' },
        afterFit: pinWidth(358) }
    }
  },
  plugins: [leftTicksPlugin]
});

// ---------- (f) ----------
addText(5, 828, '(f)', { size: 17 });
const fArrows = [];
const fEdges = [
  ...edgeSets(fSolid, fNames, fX, fY, '#e8762c', [], 1.3, fArrows, true),
  ...edgeSets(fDash, fNames, fX, fY, '#e8762c', [5, 2], 1.2, fArrows, true),
  ...edgeSets(fGrey, fNames, fX, fY, '#7f7f7f', [3, 2], 0.8, fArrows, true),
  ...edgeSets(fYellowSolid, fNames, fX, fY, '#f6c928', [], 1.3, fArrows, true),
  ...edgeSets(fYellowDash, fNames, fX, fY, '#f6c928', [5, 2], 1.2, fArrows, true)
];
const relSets = relColors.map((col, i) => ({
  type: 'line', data: [{ x: 218, y: relY[i] }, { x: 270, y: relY[i] }], borderColor: col, borderDash: relDash[i], borderWidth: 1.2, pointRadius: 0
}));
new Chart(addCanvas(0, 810, 320, 335), {
  type: 'scatter',
  data: { datasets: [
    { data: fX.map((v, i) => ({ x: v, y: fY[i] })), pointStyle: fShapes.map(shapeCanvas), order: 1 },
    { data: predictLegendX.map((v, i) => ({ x: v, y: predictLegendY[i] })), pointStyle: predictLegendKinds.map(shapeCanvas), order: 1 },
    { data: shapeLegendY.map(v => ({ x: 565, y: v })), pointStyle: shapeLegendKinds.map(shapeCanvas), order: 1 },
    ...relSets,
    ...fEdges
  ] },
  options: {
    scales: { x: { display: false, min: 0, max: 960 }, y: { display: false, min: 0, max: 1005, reverse: true } },
    plugins: { network: { arrows: fArrows, arrowBack: 9, arrowSize: 5, names: fNames, labelX: fX, labelY: fY, labelFont: '6.8px "Liberation Sans"' } }
  },
  plugins: [networkPlugin]
});
const fx = v => v / 3, fy = v => 810 + v / 3;
addText(fx(360), fy(551), 'Prediction legend', { size: 8.4, color: '#e8112d', align: 'center' });
addText(fx(218), fy(576), 'More confidence', { size: 6.8, color: '#444' });
addText(fx(272), fy(611), 'Predicted activation', { size: 6.8, color: '#444' });
addText(fx(272), fy(656), 'Predicted inhibition', { size: 6.8, color: '#444' });
addText(fx(360), fy(699), 'Predicted relationships', { size: 8.4, color: '#e8112d', align: 'center' });
relNames.forEach((n, i) => addText(fx(280), fy(relY[i]), n, { size: 6.8, color: '#444' }));
addText(fx(662), fy(551), 'Network shapes', { size: 8.4, color: '#e8112d', align: 'center' });
shapeLegendNames.forEach((n, i) => addText(fx(581), fy(shapeLegendY[i]), n, { size: 6.8, color: '#444' }));

// ---------- (g) ----------
addText(326, 828, '(g)', { size: 17 });
const gArrows = [];
const gEdges = [
  ...edgeSets(gGrey, gNames, gX, gY, '#a8a8a8', [], 0.8, gArrows, false),
  ...edgeSets(gBlue, gNames, gX, gY, '#3f86c6', [4, 2], 1, gArrows, false),
  ...edgeSets(gSolid, gNames, gX, gY, '#ec8a4a', [], 1, gArrows, true),
  ...edgeSets(gDash, gNames, gX, gY, '#ee8a4c', [4, 1.5], 0.9, gArrows, true)
];
new Chart(addCanvas(310, 810, 406, 335), {
  type: 'scatter',
  data: { datasets: [
    { data: gX.map((v, i) => ({ x: v, y: gY[i] })), pointStyle: gShapes.map(shapeCanvas), order: 1 },
    ...gEdges
  ] },
  options: {
    scales: { x: { display: false, min: 0, max: 1218 }, y: { display: false, min: 0, max: 1005, reverse: true } },
    plugins: { network: { arrows: gArrows, arrowBack: 5, arrowSize: 3.5, names: gNames, labelX: gLabelX, labelY: gY, labelFont: '6.6px "Liberation Sans"' } }
  },
  plugins: [networkPlugin]
});
</script>
</body>
</html>
